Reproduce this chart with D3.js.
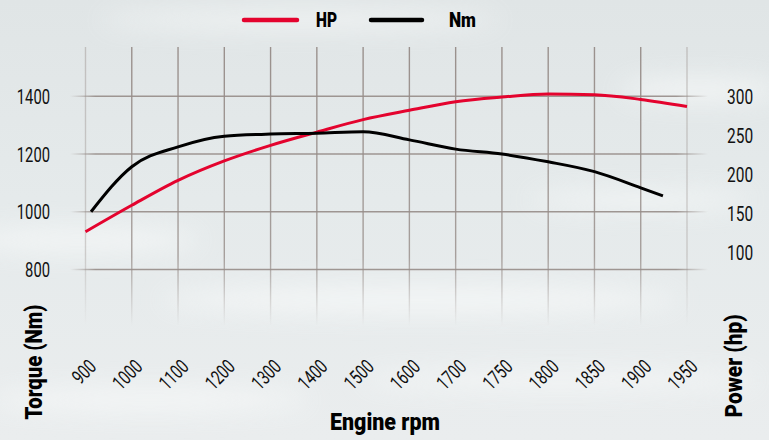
<!DOCTYPE html>
<html lang="en">
<head>
<meta charset="UTF-8">
<script src="https://d3js.org/d3.v7.min.js"></script>
<title>Engine curve</title>
<style>
  body { margin: 0; background: #e4e9ea; }
  svg { display: block; }
  .tick-label { font-family: Roboto, "Noto Sans", sans-serif; font-size: 20px; fill: #111; }
  .title { font-family: Roboto, "Noto Sans", sans-serif; font-weight: 900; font-size: 24px; fill: #000; }
</style>
</head>
<body>
<svg width="769" height="440"></svg>
<script>
// x categories (engine rpm), evenly spaced on the chart
const rpmLabels = ['900', '1000', '1100', '1200', '1300', '1400', '1500', '1600', '1700', '1750', '1800', '1850', '1900', '1950'];

// power curve, one value per rpm label
const hpValues = [126, 160, 192, 217, 237, 254, 270, 282, 293, 299, 303, 302, 296, 287];

// torque curve: position along the rpm axis (index of label) and value
const nmPos = [0.12, 1, 2, 3, 4, 5, 6, 7, 8, 9, 10, 11, 12, 12.48];
const nmValues = [1000, 1156, 1225, 1262, 1269, 1272, 1277, 1249, 1217, 1200, 1173, 1139, 1083, 1055];

const torqueTicks = [800, 1000, 1200, 1400];
const powerTicks = [100, 150, 200, 250, 300];

const svg = d3.select('svg');
const defs = svg.append('defs');

// background
const bg = defs.append('linearGradient').attr('id', 'bg').attr('x1', 0).attr('y1', 0).attr('x2', 0).attr('y2', 1);
bg.append('stop').attr('offset', '0%').attr('stop-color', '#e0e5e6');
bg.append('stop').attr('offset', '45%').attr('stop-color', '#e5eaeb');
bg.append('stop').attr('offset', '100%').attr('stop-color', '#eaedee');
svg.append('rect').attr('width', 769).attr('height', 440).attr('fill', 'url(#bg)');

defs.append('filter').attr('id', 'blur').append('feGaussianBlur').attr('stdDeviation', 12);
const streaks = [
  [80, 240, 120, 12], [420, 300, 260, 14], [640, 200, 110, 9], [300, 20, 200, 9], [700, 90, 80, 12], [150, 400, 160, 12], [560, 380, 200, 10]
];
svg.append('g').attr('filter', 'url(#blur)').attr('opacity', 0.75)
  .selectAll('ellipse').data(streaks).enter().append('ellipse')
  .attr('cx', d => d[0]).attr('cy', d => d[1]).attr('rx', d => d[2]).attr('ry', d => d[3])
  .attr('fill', '#f7f9f9');

// scales
const x = d3.scaleLinear().domain([0, rpmLabels.length - 1]).range([85.5, 687]);
const yNm = d3.scaleLinear().domain([800, 1400]).range([269.5, 96.3]);
const yHp = d3.scaleLinear().domain([100, 300]).range([252, 96.3]);

// grid gradients
const gh = defs.append('linearGradient').attr('id', 'gh').attr('gradientUnits', 'userSpaceOnUse')
  .attr('x1', 70).attr('y1', 0).attr('x2', 708).attr('y2', 0);
gh.append('stop').attr('offset', '0%').attr('stop-color', '#968c88').attr('stop-opacity', 0);
gh.append('stop').attr('offset', '4%').attr('stop-color', '#968c88').attr('stop-opacity', 0.9);
gh.append('stop').attr('offset', '95%').attr('stop-color', '#968c88').attr('stop-opacity', 0.9);
gh.append('stop').attr('offset', '100%').attr('stop-color', '#968c88').attr('stop-opacity', 0);

const gv = defs.append('linearGradient').attr('id', 'gv').attr('gradientUnits', 'userSpaceOnUse')
  .attr('x1', 0).attr('y1', 47).attr('x2', 0).attr('y2', 326);
gv.append('stop').attr('offset', '0%').attr('stop-color', '#968c88').attr('stop-opacity', 0.95);
gv.append('stop').attr('offset', '75%').attr('stop-color', '#968c88').attr('stop-opacity', 0.8);
gv.append('stop').attr('offset', '100%').attr('stop-color', '#968c88').attr('stop-opacity', 0);

const grid = svg.append('g');
grid.selectAll('.hline').data(torqueTicks).enter().append('line')
  .attr('x1', 70).attr('x2', 708)
  .attr('y1', d => yNm(d)).attr('y2', d => yNm(d))
  .attr('stroke', 'url(#gh)').attr('stroke-width', 1.4);
grid.selectAll('.vline').data(rpmLabels).enter().append('line')
  .attr('x1', (d, i) => x(i)).attr('x2', (d, i) => x(i))
  .attr('y1', 47).attr('y2', 326)
  .attr('stroke', 'url(#gv)')
  .attr('stroke-width', 1.4)
  .attr('opacity', (d, i) => (i === 0 || i === rpmLabels.length - 1) ? 0.45 : 1);

// axes labels (condensed look via textLength)
svg.append('g').selectAll('text').data(torqueTicks).enter().append('text')
  .attr('class', 'tick-label')
  .attr('x', 50).attr('y', d => yNm(d) + 7.5)
  .attr('text-anchor', 'end')
  .attr('textLength', d => String(d).length * 8.3)
  .attr('lengthAdjust', 'spacingAndGlyphs')
  .text(d => d);

svg.append('g').selectAll('text').data(powerTicks).enter().append('text')
  .attr('class', 'tick-label')
  .attr('x', 727).attr('y', d => yHp(d) + 7.5)
  .attr('text-anchor', 'start')
  .attr('textLength', d => String(d).length * 8.7)
  .attr('lengthAdjust', 'spacingAndGlyphs')
  .text(d => d);

svg.append('g').selectAll('text').data(rpmLabels).enter().append('text')
  .attr('class', 'tick-label')
  .attr('text-anchor', 'end')
  .attr('textLength', d => d.length * 8.1)
  .attr('lengthAdjust', 'spacingAndGlyphs')
  .attr('transform', (d, i) => `translate(${x(i) + 12},${368}) rotate(-45)`)
  .text(d => d);

// curves
const hpLine = d3.line()
  .x((d, i) => x(i))
  .y(d => yHp(d))
  .curve(d3.curveMonotoneX);
svg.append('path').datum(hpValues)
  .attr('d', hpLine)
  .attr('fill', 'none').attr('stroke', '#e4032e').attr('stroke-width', 3);

const nmLine = d3.line()
  .x((d, i) => x(nmPos[i]))
  .y(d => yNm(d))
  .curve(d3.curveMonotoneX);
svg.append('path').datum(nmValues)
  .attr('d', nmLine)
  .attr('fill', 'none').attr('stroke', '#000').attr('stroke-width', 3);

// titles
svg.append('text').attr('class', 'title')
  .attr('transform', 'translate(42,362) rotate(-90)')
  .attr('text-anchor', 'middle')
  .attr('textLength', 115).attr('lengthAdjust', 'spacingAndGlyphs')
  .text('Torque (Nm)');
svg.append('text').attr('class', 'title')
  .attr('transform', 'translate(742,366) rotate(-90)')
  .attr('text-anchor', 'middle')
  .attr('textLength', 103).attr('lengthAdjust', 'spacingAndGlyphs')
  .text('Power (hp)');
svg.append('text').attr('class', 'title')
  .attr('x', 385).attr('y', 430)
  .attr('text-anchor', 'middle')
  .attr('textLength', 110).attr('lengthAdjust', 'spacingAndGlyphs')
  .text('Engine rpm');

// legend
const legend = [
  { name: 'HP', color: '#e4032e', x1: 244, x2: 297, tx: 316, w: 21 },
  { name: 'Nm', color: '#000', x1: 371, x2: 422, tx: 449, w: 27 }
];
const lg = svg.append('g').selectAll('g').data(legend).enter().append('g');
lg.append('line')
  .attr('x1', d => d.x1).attr('x2', d => d.x2).attr('y1', 20).attr('y2', 20)
  .attr('stroke', d => d.color).attr('stroke-width', 4.5).attr('stroke-linecap', 'round');
lg.append('text').attr('class', 'title')
  .style('font-size', '21px')
  .attr('x', d => d.tx).attr('y', 27)
  .attr('textLength', d => d.w).attr('lengthAdjust', 'spacingAndGlyphs')
  .text(d => d.name);
</script>
</body>
</html>
